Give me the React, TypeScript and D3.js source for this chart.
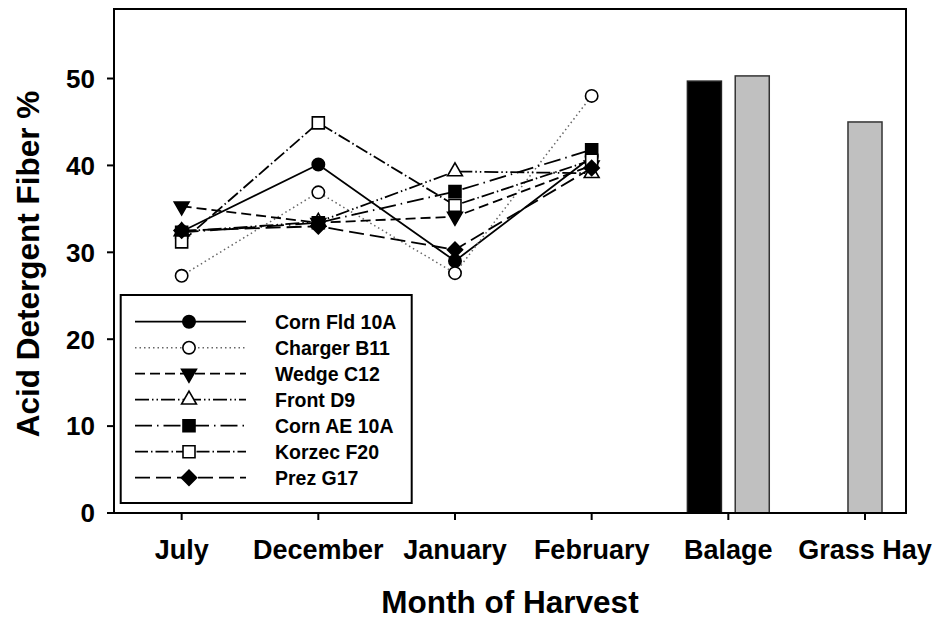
import React, { useEffect, useRef } from 'react';
import * as d3 from 'd3';

// categories on the x axis
const months = ['July', 'December', 'January', 'February'];
const barCategories = ['Balage', 'Grass Hay'];

// ADF % per variety, one value per month
const seriesNames = ['Corn Fld 10A', 'Charger B11', 'Wedge C12', 'Front D9', 'Corn AE 10A', 'Korzec F20', 'Prez G17'];
const cornFld10A = [32.4, 40.1, 29.0, 41.0];
const chargerB11 = [27.3, 36.9, 27.6, 48.0];
const wedgeC12 = [35.3, 33.4, 34.1, 40.0];
const frontD9 = [32.4, 33.5, 39.3, 39.1];
const cornAE10A = [32.3, 33.4, 37.0, 41.8];
const korzecF20 = [31.2, 44.9, 35.4, 40.6];
const prezG17 = [32.5, 33.0, 30.3, 39.7];

// bars for the stored feeds
const barBlack = [49.7, null];
const barGray = [50.3, 45.0];

const yTicks = [0, 10, 20, 30, 40, 50];

const App = () => {
    const ref = useRef(null);

    useEffect(() => {
        const svg = d3.select(ref.current);
        svg.selectAll('*').remove();

        const font = "'Liberation Sans', Arial, sans-serif";
        const left = 114, right = 906, top = 9, bottom = 513;

        const x = d3.scaleLinear().domain([-0.495, 5.3]).range([left, right]);
        const y = d3.scaleLinear().domain([0, 58]).range([bottom, top]);
        const unit = x(1) - x(0);

        const allSeries = [cornFld10A, chargerB11, wedgeC12, frontD9, cornAE10A, korzecF20, prezG17];
        const styles = [
            { dash: null, color: '#000', w: 1.8, sym: d3.symbolCircle, size: 120, fill: '#000', rot: 0 },
            { dash: '1.5,3', color: '#666', w: 1.5, sym: d3.symbolCircle, size: 120, fill: '#fff', rot: 0 },
            { dash: '10,5', color: '#000', w: 1.8, sym: d3.symbolTriangle, size: 95, fill: '#000', rot: 180 },
            { dash: '14,3,1.5,3,1.5,3', color: '#000', w: 1.8, sym: d3.symbolTriangle, size: 95, fill: '#fff', rot: 0 },
            { dash: '17,5,1.5,5', color: '#000', w: 1.8, sym: d3.symbolSquare, size: 144, fill: '#000', rot: 0 },
            { dash: '13,3,1.5,3', color: '#000', w: 1.8, sym: d3.symbolSquare, size: 144, fill: '#fff', rot: 0 },
            { dash: '15,6', color: '#000', w: 1.8, sym: d3.symbolSquare, size: 115, fill: '#000', rot: 45 },
        ];

        // bars
        const barW = 0.249 * unit;
        const barOff = 0.175 * unit;
        barCategories.forEach((c, i) => {
            const cx = x(months.length + i);
            const b = barBlack[i], g = barGray[i];
            const pair = b != null && g != null;
            if (b != null) {
                svg.append('rect')
                    .attr('x', cx - (pair ? barOff : 0) - barW / 2)
                    .attr('y', y(b)).attr('width', barW).attr('height', y(0) - y(b))
                    .attr('fill', '#000').attr('stroke', '#222').attr('stroke-width', 1.5);
            }
            if (g != null) {
                svg.append('rect')
                    .attr('x', cx + (pair ? barOff : 0) - barW / 2)
                    .attr('y', y(g)).attr('width', barW).attr('height', y(0) - y(g))
                    .attr('fill', '#c0c0c0').attr('stroke', '#333').attr('stroke-width', 1.5);
            }
        });

        // lines + symbols, in series order
        const line = d3.line().x((d, i) => x(i)).y(d => y(d));
        allSeries.forEach((vals, s) => {
            const st = styles[s];
            svg.append('path').datum(vals)
                .attr('d', line).attr('fill', 'none')
                .attr('stroke', st.color).attr('stroke-width', st.w)
                .attr('stroke-dasharray', st.dash);
            svg.selectAll(null).data(vals).enter().append('path')
                .attr('d', d3.symbol().type(st.sym).size(st.size))
                .attr('transform', (d, i) => `translate(${x(i)},${y(d)}) rotate(${st.rot})`)
                .attr('fill', st.fill).attr('stroke', '#000').attr('stroke-width', 1.6);
        });

        // frame
        svg.append('rect').attr('x', left).attr('y', top)
            .attr('width', right - left).attr('height', bottom - top)
            .attr('fill', 'none').attr('stroke', '#000').attr('stroke-width', 2);

        // y axis ticks
        yTicks.forEach(t => {
            svg.append('line').attr('x1', left - 7).attr('x2', left)
                .attr('y1', y(t)).attr('y2', y(t)).attr('stroke', '#000').attr('stroke-width', 2);
            svg.append('text').attr('x', 95).attr('y', y(t)).attr('dy', '0.36em')
                .attr('text-anchor', 'end').attr('font-family', font).attr('font-weight', 'bold')
                .attr('font-size', 26).text(t);
        });

        // x axis ticks
        months.concat(barCategories).forEach((c, i) => {
            svg.append('line').attr('x1', x(i)).attr('x2', x(i))
                .attr('y1', bottom).attr('y2', bottom + 7).attr('stroke', '#000').attr('stroke-width', 2);
            svg.append('text').attr('x', x(i)).attr('y', 559)
                .attr('text-anchor', 'middle').attr('font-family', font).attr('font-weight', 'bold')
                .attr('font-size', 27).text(c);
        });

        // axis titles
        svg.append('text').attr('x', (left + right) / 2).attr('y', 613)
            .attr('text-anchor', 'middle').attr('font-family', font).attr('font-weight', 'bold')
            .attr('font-size', 31.5).text('Month of Harvest');
        svg.append('text').attr('transform', `translate(39,${(top + bottom) / 2 + 3}) rotate(-90)`)
            .attr('text-anchor', 'middle').attr('font-family', font).attr('font-weight', 'bold')
            .attr('font-size', 31.5).text('Acid Detergent Fiber %');

        // legend
        const lg = svg.append('g');
        lg.append('rect').attr('x', 120.7).attr('y', 295).attr('width', 291).attr('height', 208)
            .attr('fill', '#fff').attr('stroke', '#000').attr('stroke-width', 2);
        seriesNames.forEach((name, s) => {
            const st = styles[s];
            const ly = 321.7 + 26 * s;
            lg.append('line').attr('x1', 135).attr('x2', 246).attr('y1', ly).attr('y2', ly)
                .attr('stroke', st.color).attr('stroke-width', st.w).attr('stroke-dasharray', st.dash);
            lg.append('path').attr('d', d3.symbol().type(st.sym).size(st.size))
                .attr('transform', `translate(189,${ly}) rotate(${st.rot})`)
                .attr('fill', st.fill).attr('stroke', '#000').attr('stroke-width', 1.6);
            lg.append('text').attr('x', 275).attr('y', ly).attr('dy', '0.36em')
                .attr('font-family', font).attr('font-weight', 'bold').attr('font-size', 19.5).text(name);
        });
    }, []);

    return (
        <svg ref={ref} width={937} height={621}
            style={{ position: 'absolute', left: 0, top: 0, background: '#fff' }}></svg>
    );
};

export default App;
